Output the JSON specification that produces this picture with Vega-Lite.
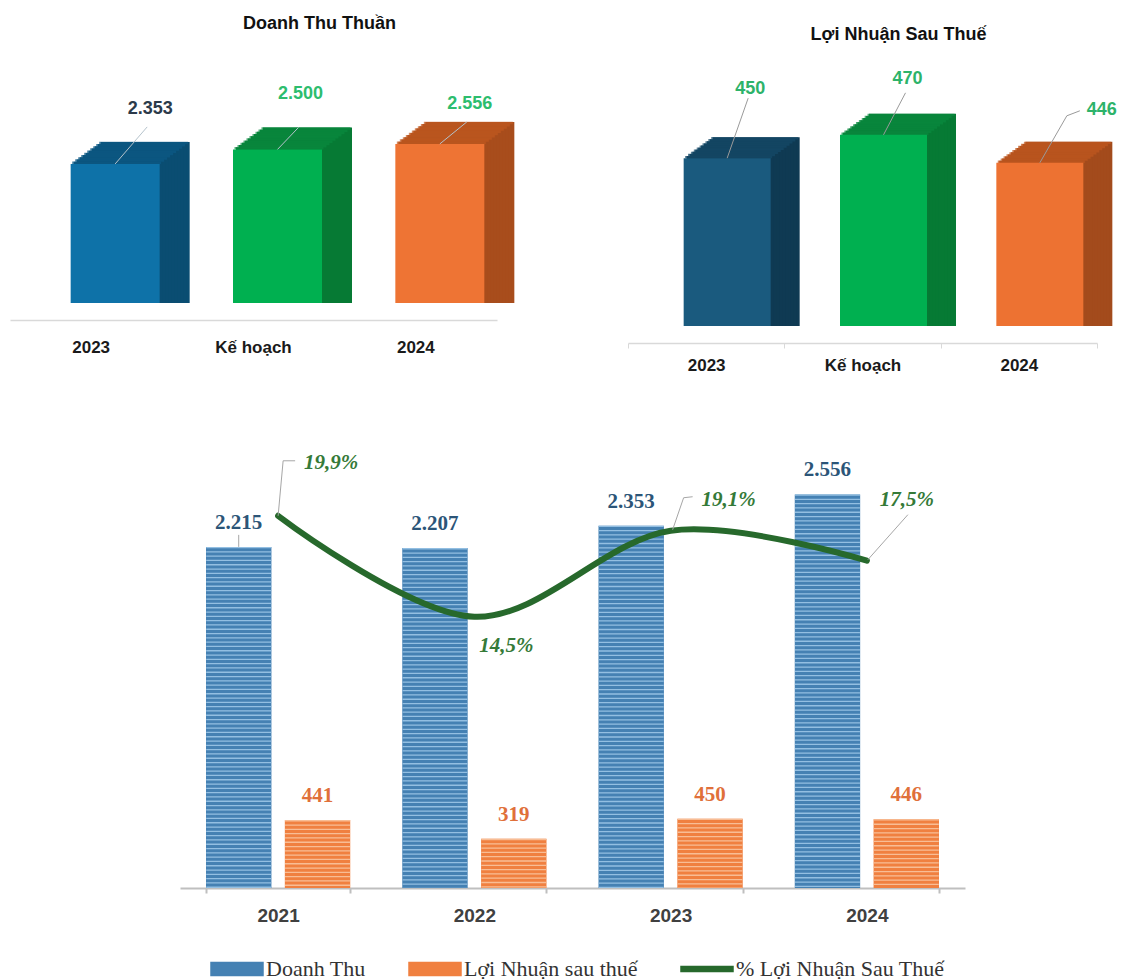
{
  "$schema": "https://vega.github.io/schema/vega-lite/v6.json",
  "padding": {"left": 10, "top": 15, "right": 0, "bottom": 0},
  "background": "white",
  "config": {
    "view": {"stroke": null},
    "locale": {"number": {"decimal": ",", "thousands": ".", "grouping": [3], "currency": ["", ""]}}
  },
  "datasets": {
    "dtt": [
      {"cat": "2023", "value": 2353},
      {"cat": "Kế hoạch", "value": 2500},
      {"cat": "2024", "value": 2556}
    ],
    "lnst": [
      {"cat": "2023", "value": 450},
      {"cat": "Kế hoạch", "value": 470},
      {"cat": "2024", "value": 446}
    ],
    "bars": [
      {"year": "2021", "series": "Doanh Thu", "value": 2215},
      {"year": "2021", "series": "Lợi Nhuận sau thuế", "value": 441},
      {"year": "2022", "series": "Doanh Thu", "value": 2207},
      {"year": "2022", "series": "Lợi Nhuận sau thuế", "value": 319},
      {"year": "2023", "series": "Doanh Thu", "value": 2353},
      {"year": "2023", "series": "Lợi Nhuận sau thuế", "value": 450},
      {"year": "2024", "series": "Doanh Thu", "value": 2556},
      {"year": "2024", "series": "Lợi Nhuận sau thuế", "value": 446}
    ],
    "pct": [
      {"year": "2021", "pct": 0.199},
      {"year": "2022", "pct": 0.145},
      {"year": "2023", "pct": 0.191},
      {"year": "2024", "pct": 0.175}
    ]
  },
  "bounds": "full",
  "spacing": 53,
  "resolve": {"scale": {"color": "independent", "fill": "independent", "stroke": "independent"}},
  "vconcat": [
    {
      "bounds": "flush",
      "spacing": 131,
      "resolve": {"scale": {"color": "independent", "fill": "independent", "stroke": "independent"}},
      "hconcat": [
        {
          "width": 487,
          "height": 262,
          "data": {"name": "dtt"},
          "title": {"text": "Doanh Thu Thuần", "font": "Liberation Sans", "fontSize": 18, "fontWeight": "bold", "color": "#111111", "offset": 8, "dx": 66, "anchor": "middle"},
          "encoding": {
            "x": {"field": "cat", "type": "nominal", "sort": ["2023", "Kế hoạch", "2024"], "scale": {"paddingInner": 0, "paddingOuter": 0},
              "axis": {"title": null, "labelAngle": 0, "labelFont": "Liberation Sans", "labelFontWeight": "bold", "labelFontSize": 17, "labelColor": "#1a1a1a", "domainColor": "#d9d9d9", "domainWidth": 1.5, "ticks": false, "tickSize": 0, "labelPadding": 19, "offset": 17}},
            "y": {"field": "value", "type": "quantitative", "scale": {"domain": [942, 3600], "zero": false, "nice": false}, "axis": null}
          },
          "layer": [
            {
              "encoding": {"y2": {"datum": 942}, "color": {"field": "cat", "type": "nominal", "scale": {"domain": ["2023", "Kế hoạch", "2024"], "range": ["#0a4d72", "#067a34", "#a84d1c"]}, "legend": null}},
              "layer": [
                {"mark": {"type": "bar", "width": 89, "xOffset": 54, "yOffset": -22}},
                {"mark": {"type": "bar", "width": 89, "xOffset": 51, "yOffset": -19.8}},
                {"mark": {"type": "bar", "width": 89, "xOffset": 48, "yOffset": -17.6}},
                {"mark": {"type": "bar", "width": 89, "xOffset": 45, "yOffset": -15.4}},
                {"mark": {"type": "bar", "width": 89, "xOffset": 42, "yOffset": -13.2}},
                {"mark": {"type": "bar", "width": 89, "xOffset": 39, "yOffset": -11}},
                {"mark": {"type": "bar", "width": 89, "xOffset": 36, "yOffset": -8.8}},
                {"mark": {"type": "bar", "width": 89, "xOffset": 33, "yOffset": -6.6}},
                {"mark": {"type": "bar", "width": 89, "xOffset": 30, "yOffset": -4.4}},
                {"mark": {"type": "bar", "width": 89, "xOffset": 27, "yOffset": -2.2}}
              ]
            },
            {
              "encoding": {"color": {"condition": [{"test": "datum.cat === '2023'", "value": "#0c5a86"}, {"test": "datum.cat === 'Kế hoạch'", "value": "#0a8a3e"}], "value": "#c0581f"}},
              "layer": [
                {"mark": {"type": "tick", "size": 89, "thickness": 2.5, "xOffset": 52.5, "yOffset": -20.9}},
                {"mark": {"type": "tick", "size": 89, "thickness": 2.5, "xOffset": 49.5, "yOffset": -18.7}},
                {"mark": {"type": "tick", "size": 89, "thickness": 2.5, "xOffset": 46.5, "yOffset": -16.5}},
                {"mark": {"type": "tick", "size": 89, "thickness": 2.5, "xOffset": 43.5, "yOffset": -14.3}},
                {"mark": {"type": "tick", "size": 89, "thickness": 2.5, "xOffset": 40.5, "yOffset": -12.1}},
                {"mark": {"type": "tick", "size": 89, "thickness": 2.5, "xOffset": 37.5, "yOffset": -9.9}},
                {"mark": {"type": "tick", "size": 89, "thickness": 2.5, "xOffset": 34.5, "yOffset": -7.7}},
                {"mark": {"type": "tick", "size": 89, "thickness": 2.5, "xOffset": 31.5, "yOffset": -5.5}},
                {"mark": {"type": "tick", "size": 89, "thickness": 2.5, "xOffset": 28.5, "yOffset": -3.3}},
                {"mark": {"type": "tick", "size": 89, "thickness": 2.5, "xOffset": 25.5, "yOffset": -1.1}}
              ]
            },
            {"mark": {"type": "bar", "width": 89, "xOffset": 24},
              "encoding": {"y2": {"datum": 942}, "fill": {"field": "cat", "type": "nominal", "scale": {"domain": ["2023", "Kế hoạch", "2024"], "range": ["#0e72a8", "#00b050", "#ee7434"]}, "legend": null}}},
            {
              "transform": [{"filter": "datum.cat === '2023'"}],
              "layer": [
                {"mark": {"type": "rule", "xOffset": 24, "x2Offset": 56, "y2Offset": -37, "color": "#b5c3cc", "strokeWidth": 1},
                  "encoding": {"x2": {"field": "cat", "bandPosition": 0.5}, "y2": {"field": "value"}}},
                {"mark": {"type": "text", "dx": 59, "dy": -55, "font": "Liberation Sans", "fontWeight": "bold", "fontSize": 18, "color": "#2b3a4a"},
                  "encoding": {"text": {"field": "value", "type": "quantitative", "format": ",d"}}}
              ]
            },
            {
              "transform": [{"filter": "datum.cat === 'Kế hoạch'"}],
              "layer": [
                {"mark": {"type": "rule", "xOffset": 24, "x2Offset": 45, "y2Offset": -22, "color": "#b5c3cc", "strokeWidth": 1},
                  "encoding": {"x2": {"field": "cat", "bandPosition": 0.5}, "y2": {"field": "value"}}},
                {"mark": {"type": "text", "dx": 47, "dy": -55, "font": "Liberation Sans", "fontWeight": "bold", "fontSize": 18, "color": "#2dbd6e"},
                  "encoding": {"text": {"field": "value", "type": "quantitative", "format": ",d"}}}
              ]
            },
            {
              "transform": [{"filter": "datum.cat === '2024'"}],
              "layer": [
                {"mark": {"type": "rule", "xOffset": 24, "x2Offset": 51, "y2Offset": -22, "color": "#b5c3cc", "strokeWidth": 1},
                  "encoding": {"x2": {"field": "cat", "bandPosition": 0.5}, "y2": {"field": "value"}}},
                {"mark": {"type": "text", "dx": 54, "dy": -40, "font": "Liberation Sans", "fontWeight": "bold", "fontSize": 18, "color": "#2dbd6e"},
                  "encoding": {"text": {"field": "value", "type": "quantitative", "format": ",d"}}}
              ]
            }
          ]
        },
        {
          "width": 469,
          "height": 285,
          "data": {"name": "lnst"},
          "title": {"text": "Lợi Nhuận Sau Thuế", "font": "Liberation Sans", "fontSize": 18, "fontWeight": "bold", "color": "#111111", "offset": 8, "dx": 36, "dy": 11, "anchor": "middle"},
          "encoding": {
            "x": {"field": "cat", "type": "nominal", "sort": ["2023", "Kế hoạch", "2024"], "scale": {"paddingInner": 0, "paddingOuter": 0},
              "axis": {"title": null, "labelAngle": 0, "labelFont": "Liberation Sans", "labelFontWeight": "bold", "labelFontSize": 17, "labelColor": "#1a1a1a", "domainColor": "#d9d9d9", "domainWidth": 1.5, "ticks": true, "tickBand": "extent", "tickSize": 5, "tickColor": "#d9d9d9", "labelPadding": 9, "offset": 17}},
            "y": {"field": "value", "type": "quantitative", "scale": {"domain": [306, 550.5], "zero": false, "nice": false}, "axis": null}
          },
          "layer": [
            {
              "encoding": {"y2": {"datum": 306}, "color": {"field": "cat", "type": "nominal", "scale": {"domain": ["2023", "Kế hoạch", "2024"], "range": ["#0f3a53", "#067a34", "#a34b1c"]}, "legend": null}},
              "layer": [
                {"mark": {"type": "bar", "width": 87, "xOffset": 50, "yOffset": -21}},
                {"mark": {"type": "bar", "width": 87, "xOffset": 47.1, "yOffset": -18.9}},
                {"mark": {"type": "bar", "width": 87, "xOffset": 44.2, "yOffset": -16.8}},
                {"mark": {"type": "bar", "width": 87, "xOffset": 41.3, "yOffset": -14.7}},
                {"mark": {"type": "bar", "width": 87, "xOffset": 38.4, "yOffset": -12.6}},
                {"mark": {"type": "bar", "width": 87, "xOffset": 35.5, "yOffset": -10.5}},
                {"mark": {"type": "bar", "width": 87, "xOffset": 32.6, "yOffset": -8.4}},
                {"mark": {"type": "bar", "width": 87, "xOffset": 29.7, "yOffset": -6.3}},
                {"mark": {"type": "bar", "width": 87, "xOffset": 26.8, "yOffset": -4.2}},
                {"mark": {"type": "bar", "width": 87, "xOffset": 23.9, "yOffset": -2.1}}
              ]
            },
            {
              "encoding": {"color": {"condition": [{"test": "datum.cat === '2023'", "value": "#164a6a"}, {"test": "datum.cat === 'Kế hoạch'", "value": "#0a8a3e"}], "value": "#c0581f"}},
              "layer": [
                {"mark": {"type": "tick", "size": 87, "thickness": 2.4, "xOffset": 48.55, "yOffset": -19.95}},
                {"mark": {"type": "tick", "size": 87, "thickness": 2.4, "xOffset": 45.65, "yOffset": -17.85}},
                {"mark": {"type": "tick", "size": 87, "thickness": 2.4, "xOffset": 42.75, "yOffset": -15.75}},
                {"mark": {"type": "tick", "size": 87, "thickness": 2.4, "xOffset": 39.85, "yOffset": -13.65}},
                {"mark": {"type": "tick", "size": 87, "thickness": 2.4, "xOffset": 36.95, "yOffset": -11.55}},
                {"mark": {"type": "tick", "size": 87, "thickness": 2.4, "xOffset": 34.05, "yOffset": -9.45}},
                {"mark": {"type": "tick", "size": 87, "thickness": 2.4, "xOffset": 31.15, "yOffset": -7.35}},
                {"mark": {"type": "tick", "size": 87, "thickness": 2.4, "xOffset": 28.25, "yOffset": -5.25}},
                {"mark": {"type": "tick", "size": 87, "thickness": 2.4, "xOffset": 25.35, "yOffset": -3.15}},
                {"mark": {"type": "tick", "size": 87, "thickness": 2.4, "xOffset": 22.45, "yOffset": -1.05}}
              ]
            },
            {"mark": {"type": "bar", "width": 87, "xOffset": 21},
              "encoding": {"y2": {"datum": 306}, "fill": {"field": "cat", "type": "nominal", "scale": {"domain": ["2023", "Kế hoạch", "2024"], "range": ["#1a5a7e", "#00b050", "#ed7232"]}, "legend": null}}},
            {
              "transform": [{"filter": "datum.cat === '2023'"}],
              "layer": [
                {"mark": {"type": "rule", "xOffset": 21, "x2Offset": 42, "y2Offset": -60, "color": "#9a9a9a", "strokeWidth": 1},
                  "encoding": {"x2": {"field": "cat", "bandPosition": 0.5}, "y2": {"field": "value"}}},
                {"mark": {"type": "text", "dx": 44, "dy": -69, "font": "Liberation Sans", "fontWeight": "bold", "fontSize": 18, "color": "#2db36a"},
                  "encoding": {"text": {"field": "value", "type": "quantitative", "format": ",d"}}}
              ]
            },
            {
              "transform": [{"filter": "datum.cat === 'Kế hoạch'"}],
              "layer": [
                {"mark": {"type": "rule", "xOffset": 21, "x2Offset": 43, "y2Offset": -42, "color": "#9a9a9a", "strokeWidth": 1},
                  "encoding": {"x2": {"field": "cat", "bandPosition": 0.5}, "y2": {"field": "value"}}},
                {"mark": {"type": "text", "dx": 45, "dy": -56, "font": "Liberation Sans", "fontWeight": "bold", "fontSize": 18, "color": "#2db36a"},
                  "encoding": {"text": {"field": "value", "type": "quantitative", "format": ",d"}}}
              ]
            },
            {
              "transform": [{"filter": "datum.cat === '2024'"}],
              "layer": [
                {"mark": {"type": "rule", "xOffset": 21, "x2Offset": 48, "y2Offset": -47, "color": "#9a9a9a", "strokeWidth": 1},
                  "encoding": {"x2": {"field": "cat", "bandPosition": 0.5}, "y2": {"field": "value"}}},
                {"mark": {"type": "rule", "xOffset": 48, "yOffset": -47, "x2Offset": 61, "y2Offset": -52, "color": "#9a9a9a", "strokeWidth": 1},
                  "encoding": {"x2": {"field": "cat", "bandPosition": 0.5}, "y2": {"field": "value"}}},
                {"mark": {"type": "text", "dx": 83, "dy": -53, "font": "Liberation Sans", "fontWeight": "bold", "fontSize": 18, "color": "#2db36a"},
                  "encoding": {"text": {"field": "value", "type": "quantitative", "format": ",d"}}}
              ]
            }
          ]
        }
      ]
    },
    {
      "width": 955,
      "height": 462,
      "resolve": {"scale": {"y": "independent"}},
      "layer": [
        {
          "data": {"name": "bars"},
          "encoding": {
            "x": {"field": "year", "type": "nominal", "scale": {"range": [170, 955], "paddingInner": 0.265, "paddingOuter": 0.1325},
              "axis": {"title": null, "labelAngle": 0, "labelFont": "Liberation Sans", "labelFontWeight": "bold", "labelFontSize": 19, "labelColor": "#404040", "domainColor": "#bfbfbf", "domainWidth": 2, "tickColor": "#bfbfbf", "tickWidth": 2, "tickSize": 5, "tickBand": "extent", "labelPadding": 13}},
            "xOffset": {"field": "series", "type": "nominal", "sort": ["Doanh Thu", "Lợi Nhuận sau thuế"], "scale": {"paddingInner": 0.17, "paddingOuter": 0}},
            "y": {"field": "value", "type": "quantitative", "scale": {"domain": [0, 3000], "nice": false}, "axis": null}
          },
          "layer": [
            {"mark": {"type": "bar"},
              "encoding": {"color": {"field": "series", "type": "nominal",
                "scale": {"domain": ["Doanh Thu", "Lợi Nhuận sau thuế", "% Lợi Nhuận Sau Thuế"], "range": ["#4581b3", "#f08040", "#27692c"]},
                "legend": {"orient": "none", "legendX": 200, "legendY": 516, "direction": "horizontal", "title": null,
                  "labelFont": "Liberation Serif", "labelFontSize": 22, "labelColor": "#333333", "labelLimit": 400, "symbolSize": 2704, "columnPadding": 40, "labelOffset": 2, "padding": 0,
                  "encode": {"symbols": {"update": {
                    "shape": {"signal": "datum.value === '% Lợi Nhuận Sau Thuế' ? 'M-1,-0.1H1V0.1H-1Z' : 'M-1,-0.25H1V0.25H-1Z'"},
                    "fill": {"signal": "datum.value === 'Doanh Thu' ? '#4581b3' : datum.value === 'Lợi Nhuận sau thuế' ? '#f08040' : '#27692c'"},
                    "stroke": {"value": "transparent"},
                    "opacity": {"value": 1},
                    "fillOpacity": {"value": 1}
                  }}}}}}},
            {"mark": {"type": "rule", "strokeWidth": 65, "strokeDash": [1.3, 3], "strokeCap": "butt"},
              "encoding": {"y2": {"datum": 0},
                "stroke": {"field": "series", "type": "nominal", "scale": {"domain": ["Doanh Thu", "Lợi Nhuận sau thuế"], "range": ["#93bfe2", "#f8bd95"]}, "legend": null}}},
            {"mark": {"type": "text", "dy": -24, "font": "Liberation Serif", "fontWeight": "bold", "fontSize": 21},
              "encoding": {"text": {"field": "value", "type": "quantitative", "format": ",d"},
                "fill": {"field": "series", "type": "nominal", "scale": {"domain": ["Doanh Thu", "Lợi Nhuận sau thuế"], "range": ["#2c5578", "#e0703a"]}, "legend": null}}},
            {"transform": [{"filter": "datum.year === '2021' && datum.series === 'Doanh Thu'"}],
              "mark": {"type": "rule", "y2Offset": -12, "color": "#a6a6a6", "strokeWidth": 1},
              "encoding": {"y2": {"field": "value"}}}
          ]
        },
        {
          "data": {"name": "pct"},
          "encoding": {
            "x": {"field": "year", "type": "nominal"},
            "y": {"field": "pct", "type": "quantitative", "scale": {"domain": [0, 0.247], "nice": false}, "axis": null}
          },
          "layer": [
            {"mark": {"type": "line", "interpolate": "cardinal", "strokeWidth": 6, "strokeCap": "round"},
              "encoding": {"color": {"datum": "% Lợi Nhuận Sau Thuế"}}},
            {
              "transform": [{"filter": "datum.year === '2021'"}],
              "layer": [
                {"mark": {"type": "rule", "x2Offset": 5, "y2Offset": -55, "color": "#a6a6a6", "strokeWidth": 1},
                  "encoding": {"x2": {"field": "year", "bandPosition": 0.5}, "y2": {"field": "pct"}}},
                {"mark": {"type": "rule", "xOffset": 5, "yOffset": -55, "x2Offset": 17, "y2Offset": -55, "color": "#a6a6a6", "strokeWidth": 1},
                  "encoding": {"x2": {"field": "year", "bandPosition": 0.5}, "y2": {"field": "pct"}}},
                {"mark": {"type": "text", "dx": 53, "dy": -53, "font": "Liberation Serif", "fontWeight": "bold", "fontStyle": "italic", "fontSize": 21, "color": "#357a38"},
                  "encoding": {"text": {"field": "pct", "type": "quantitative", "format": ".1%"}}}
              ]
            },
            {
              "transform": [{"filter": "datum.year === '2022'"}],
              "mark": {"type": "text", "dx": 32, "dy": 29, "font": "Liberation Serif", "fontWeight": "bold", "fontStyle": "italic", "fontSize": 21, "color": "#357a38"},
              "encoding": {"text": {"field": "pct", "type": "quantitative", "format": ".1%"}}
            },
            {
              "transform": [{"filter": "datum.year === '2023'"}],
              "layer": [
                {"mark": {"type": "rule", "xOffset": 2, "yOffset": -1, "x2Offset": 13, "y2Offset": -33, "color": "#a6a6a6", "strokeWidth": 1},
                  "encoding": {"x2": {"field": "year", "bandPosition": 0.5}, "y2": {"field": "pct"}}},
                {"mark": {"type": "rule", "xOffset": 13, "yOffset": -33, "x2Offset": 22, "y2Offset": -34, "color": "#a6a6a6", "strokeWidth": 1},
                  "encoding": {"x2": {"field": "year", "bandPosition": 0.5}, "y2": {"field": "pct"}}},
                {"mark": {"type": "text", "dx": 58, "dy": -31, "font": "Liberation Serif", "fontWeight": "bold", "fontStyle": "italic", "fontSize": 21, "color": "#357a38"},
                  "encoding": {"text": {"field": "pct", "type": "quantitative", "format": ".1%"}}}
              ]
            },
            {
              "transform": [{"filter": "datum.year === '2024'"}],
              "layer": [
                {"mark": {"type": "rule", "xOffset": 1, "yOffset": -1, "x2Offset": 41, "y2Offset": -46, "color": "#a6a6a6", "strokeWidth": 1},
                  "encoding": {"x2": {"field": "year", "bandPosition": 0.5}, "y2": {"field": "pct"}}},
                {"mark": {"type": "text", "dx": 40, "dy": -61, "font": "Liberation Serif", "fontWeight": "bold", "fontStyle": "italic", "fontSize": 21, "color": "#357a38"},
                  "encoding": {"text": {"field": "pct", "type": "quantitative", "format": ".1%"}}}
              ]
            }
          ]
        }
      ]
    }
  ]
}
